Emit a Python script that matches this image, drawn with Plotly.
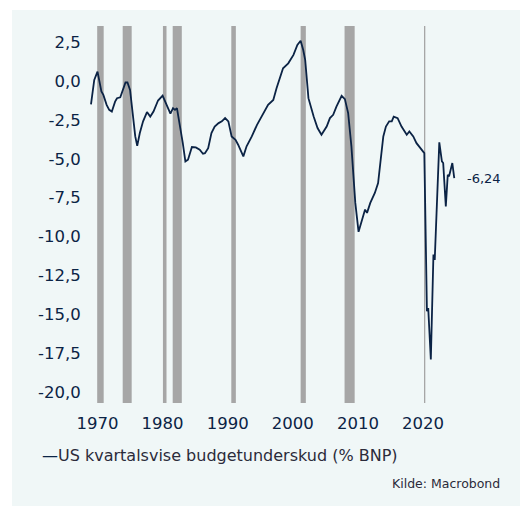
import plotly.graph_objects as go

# Readings of the series (decimal year, % of GDP)
years = [1969.0, 1969.5, 1970.0, 1970.6, 1970.9, 1971.4, 1971.8, 1972.2, 1972.7, 1973.0,
         1973.5, 1973.8, 1974.3, 1974.6, 1975.0, 1975.4, 1975.8, 1976.1, 1976.5, 1977.0,
         1977.6, 1978.1, 1978.6, 1979.3, 1980.0, 1980.4, 1980.8, 1981.2, 1981.6, 1981.9,
         1982.2, 1982.7, 1983.1, 1983.5, 1983.9, 1984.5, 1985.1, 1985.7, 1986.2, 1986.5,
         1987.0, 1987.5, 1988.0, 1988.6, 1989.1, 1989.6, 1990.1, 1990.6, 1991.2, 1991.6,
         1992.4, 1992.9, 1993.7, 1994.5, 1995.2, 1996.2, 1997.0, 1997.5, 1998.5, 1999.3,
         2000.1, 2000.7, 2001.2, 2001.6, 2001.9, 2002.4, 2003.2, 2003.8, 2004.4, 2005.2,
         2005.7, 2006.2, 2006.7, 2007.1, 2007.5, 2008.0, 2008.5, 2009.0, 2009.6, 2010.1,
         2010.6, 2011.1, 2011.4, 2011.9, 2012.6, 2013.1, 2013.5, 2013.9, 2014.3, 2014.8,
         2015.2, 2015.5, 2016.1, 2016.7, 2017.5, 2017.9, 2018.5, 2019.0, 2019.6, 2020.1,
         2020.2, 2020.6, 2020.8, 2021.2, 2021.6, 2021.8, 2022.0, 2022.5, 2022.9, 2023.1,
         2023.5, 2023.8, 2024.0, 2024.5, 2024.8]
values = [-1.50, 0.06, 0.60, -0.68, -0.90, -1.54, -1.86, -1.97, -1.33, -1.11,
          -1.05, -0.68, -0.10, -0.10, -0.58, -2.07, -3.57, -4.17, -3.35, -2.60,
          -2.00, -2.29, -1.97, -1.26, -0.94, -1.33, -1.75, -2.10, -1.75, -1.86,
          -1.75, -2.93, -4.00, -5.17, -5.06, -4.25, -4.27, -4.42, -4.68, -4.64,
          -4.32, -3.35, -2.93, -2.71, -2.60, -2.39, -2.60, -3.57, -3.78, -4.10,
          -4.85, -4.20, -3.57, -2.82, -2.29, -1.54, -1.22, -0.47, 0.81, 1.13,
          1.67, 2.31, 2.58, 1.99, 1.35, -1.11, -2.29, -3.03, -3.46, -2.93,
          -2.39, -2.18, -1.65, -1.33, -0.96, -1.17, -2.07, -4.21, -7.84, -9.70,
          -8.91, -8.27, -8.48, -7.84, -7.20, -6.56, -5.06, -3.57, -2.93, -2.60,
          -2.60, -2.29, -2.39, -2.93, -3.46, -3.25, -3.57, -4.00, -4.32, -4.60,
          -4.64, -14.80, -14.60, -17.90, -11.15, -11.50, -9.55, -3.95, -5.17, -5.28,
          -8.06, -6.03, -6.13, -5.28, -6.24]

# NBER recessions (start, end) in decimal years
rec_start = [1969.95, 1973.87, 1980.05, 1981.55, 1990.55, 2001.2, 2007.95, 2020.15]
rec_end = [1970.95, 1975.25, 1980.6, 1982.95, 1991.25, 2002.0, 2009.5, 2020.35]

ytick_vals = [2.5, 0.0, -2.5, -5.0, -7.5, -10.0, -12.5, -15.0, -17.5, -20.0]
ytick_text = ["2,5", "0,0", "-2,5", "-5,0", "-7,5", "-10,0", "-12,5", "-15,0", "-17,5", "-20,0"]
xtick_vals = [1970, 1980, 1990, 2000, 2010, 2020]
xtick_text = ["1970", "1980", "1990", "2000", "2010", "2020"]

last_label = "-6,24"
series_name = "US kvartalsvise budgetunderskud (% BNP)"
source = "Kilde: Macrobond"

NAVY = "#0b2345"
TXT = "#2b2b3a"
BG = "#f0f7f7"
FONT = "'DejaVu Sans', sans-serif"

W, H = 520, 506
L, R, T, B = 88, 60, 26, 103
pw, ph = W - L - R, H - T - B


def px(x):
    return (x - L) / pw


def py(y):
    return (H - B - y) / ph


fig = go.Figure()

shapes = []
for s, e in zip(rec_start, rec_end):
    shapes.append(dict(type="rect", xref="x", yref="y domain", x0=s, x1=e, y0=0, y1=1,
                       fillcolor="#a6a6a6", line=dict(width=0), layer="below"))
# white strips top and left (outside the tinted panel)
shapes.append(dict(type="rect", xref="paper", yref="paper", x0=px(-5), x1=px(W + 5), y0=py(10), y1=py(-5),
                   fillcolor="white", line=dict(width=0), layer="below"))
shapes.append(dict(type="rect", xref="paper", yref="paper", x0=px(-5), x1=px(12), y0=py(H + 5), y1=py(-5),
                   fillcolor="white", line=dict(width=0), layer="below"))

fig.add_trace(go.Scatter(x=years, y=values, mode="lines", name=series_name,
                         line=dict(color=NAVY, width=1.8), showlegend=False, hoverinfo="skip"))

fig.update_layout(
    width=W, height=H,
    margin=dict(l=L, r=R, t=T, b=B),
    paper_bgcolor=BG, plot_bgcolor=BG,
    shapes=shapes,
    font=dict(family=FONT, color=NAVY),
    xaxis=dict(range=[1968.54, 2025.68], tickvals=xtick_vals, ticktext=xtick_text,
               showgrid=False, zeroline=False, showline=False,
               ticks="outside", ticklen=5, tickcolor="rgba(0,0,0,0)",
               tickfont=dict(size=16.5, color=NAVY, family=FONT)),
    yaxis=dict(range=[-20.7, 3.53], tickvals=ytick_vals, ticktext=ytick_text,
               showgrid=False, zeroline=False, showline=False,
               ticks="outside", ticklen=3, tickcolor="rgba(0,0,0,0)",
               tickfont=dict(size=16.5, color=NAVY, family=FONT)),
)

fig.add_annotation(x=px(465), y=values[-1], xref="paper", yref="y", text=last_label,
                   showarrow=False, xanchor="left", yanchor="middle",
                   font=dict(size=13, color=NAVY, family=FONT))
fig.add_annotation(x=px(40), y=py(455), xref="paper", yref="paper",
                   text="<span style='color:%s'>—</span>%s" % (NAVY, series_name),
                   showarrow=False, xanchor="left", yanchor="middle",
                   font=dict(size=16, color=TXT, family=FONT))
fig.add_annotation(x=px(502), y=py(483), xref="paper", yref="paper", text=source,
                   showarrow=False, xanchor="right", yanchor="middle",
                   font=dict(size=12.5, color=TXT, family=FONT))

fig.write_html("out.html", config={"displayModeBar": False},
               post_script="document.body.style.margin='0';document.body.style.padding='0';")
